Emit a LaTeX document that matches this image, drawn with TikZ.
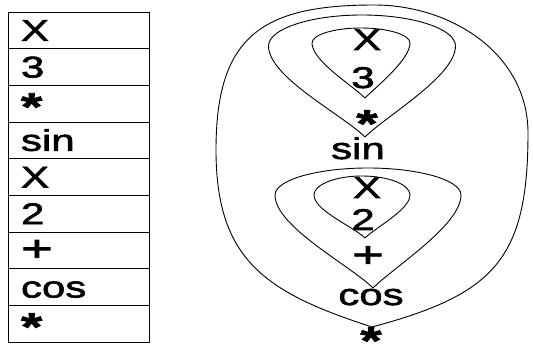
\documentclass[tikz,border=0pt]{standalone}
\usepackage{fontspec}
\setmainfont{Liberation Sans}[FakeStretch=1.4,FakeBold=2]
\usepackage{graphicx}
\newcommand{\opstar}[1][0pt]{\raisebox{#1}{\scalebox{1.3}{\bfseries *}}}
\newcommand{\opplus}{\scalebox{1.3}[1.2]{+}}

\begin{document}
\begin{tikzpicture}[x=1pt,y=1pt,line width=.9pt,
  every node/.style={font=\fontsize{30}{32}\selectfont},
  cell/.style={draw,minimum width=141pt,minimum height=36.67pt,text width=115pt,
    inner xsep=13pt,inner ysep=0pt,align=left,text height=21pt,text depth=0pt},
  sym/.style={anchor=base,inner sep=0pt}]
\useasboundingbox (0,0) rectangle (533,343);
% postfix stack
\foreach \t [count=\i] in {X,3,\opstar[-6pt],sin,X,2,\opplus,cos,\opstar[-6pt]}
  \node[cell] (r\i) at (78.5,{331-36.67*(\i-.5)}) {\t};
% expression tree
\node[sym] (x1) at (367,293) {X};
\node[sym] (n3) at (363,255) {3};
\node[sym] (m1) at (367,206) {\opstar};
\node[sym] (sin) at (358,184) {sin};
\node[sym] (x2) at (367,145) {X};
\node[sym] (n2) at (363,113) {2};
\node[sym] (add) at (368,76) {\opplus};
\node[sym] (cos) at (371,38) {cos};
\node[sym] (m2) at (371,-11) {\opstar};
% nested loops
\draw (372,16) to[out=162,in=-90,looseness=1.2] (216,193)
  to[out=90,in=180,looseness=1.35] (374,338) to[out=0,in=90] (528,210)
  to[out=-90,in=15,looseness=1.3] (372,16);
\draw (365,206) to[out=135,in=-90,looseness=.6] (268.5,297)
  arc[start angle=180,end angle=0,x radius=93.5,y radius=31]
  to[out=-90,in=45,looseness=.6] (365,206);
\draw (365,245) to[out=135,in=-90,looseness=.6] (312,300)
  arc[start angle=180,end angle=0,x radius=49,y radius=15]
  to[out=-90,in=45,looseness=.6] (365,245);
\draw (373,55) to[out=135,in=-90,looseness=.6] (275,148)
  arc[start angle=180,end angle=0,x radius=93,y radius=27]
  to[out=-90,in=45,looseness=.6] (373,55);
\draw (365,105) to[out=135,in=-90,looseness=.6] (314,148)
  arc[start angle=180,end angle=0,x radius=48,y radius=19]
  to[out=-90,in=45,looseness=.6] (365,105);
\end{tikzpicture}
\end{document}
